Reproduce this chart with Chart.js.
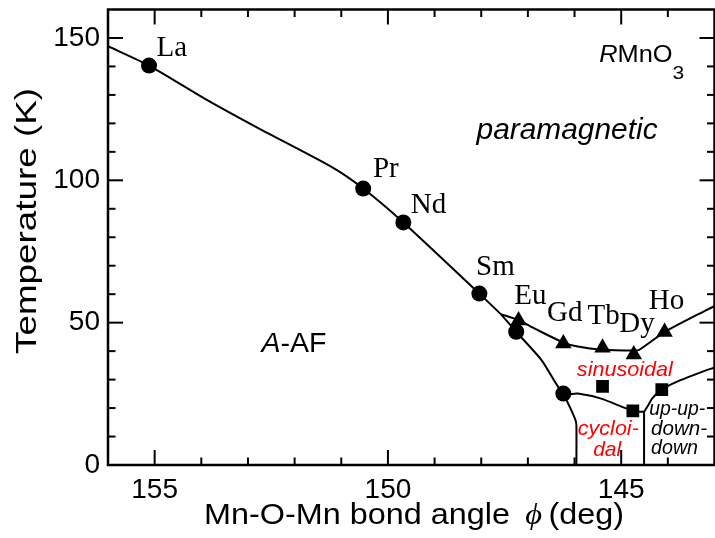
<!DOCTYPE html>
<html><head><meta charset="utf-8">
<script src="https://cdn.jsdelivr.net/npm/chart.js@4"></script>
<style>
html,body{margin:0;padding:0;overflow:hidden;background:#fff;width:715px;height:538px}
#wrap{width:724px;height:538px}
</style></head>
<body><div id="wrap"><canvas id="c" width="724" height="538"></canvas></div>
<script>
// ---------- data ----------
const circleAngles = [155.12, 150.53, 149.67, 148.04, 147.25, 146.24];
const circleTemps  = [140.3, 97.1, 85.2, 60.2, 46.8, 25.1];
const triangleAngles = [147.20, 146.24, 145.40, 144.73, 144.07];
const triangleTemps  = [50.8, 42.7, 41.2, 38.8, 46.7];
const squareAngles = [145.40, 144.75, 144.13];
const squareTemps  = [27.6, 19.0, 26.5];

// phase boundaries
const tnAngles = [156.0, 155.12, 153.9, 152.78, 151.2, 150.53, 149.67, 148.04, 147.58];
const tnTemps  = [147.1, 140.3, 128.4, 118.3, 104.6, 97.1, 85.2, 60.2, 53.0];
const sinusAngles = [147.58, 147.2, 146.84, 146.25, 145.93, 145.40, 144.72, 144.62, 144.07, 143.14, 143.0];
const sinusTemps  = [53.0, 50.9, 47.8, 43.1, 41.6, 40.5, 40.2, 40.4, 46.7, 54.7, 55.8];
const aafAngles = [147.58, 147.25, 146.7, 146.24, 145.93, 145.43, 144.75, 144.51];
const aafTemps  = [53.0, 46.8, 36.7, 25.1, 25.1, 23.3, 19.0, 18.7];
const cycLeftAngles = [146.24, 146.07, 145.98, 145.96, 145.96];
const cycLeftTemps  = [25.1, 19.3, 15.8, 14.0, 0];
const cycRightAngles = [144.51, 144.51];
const cycRightTemps  = [18.7, 0];
const uudAngles = [144.51, 144.42, 144.33, 144.13, 143.8, 143.14, 143.0];
const uudTemps  = [18.7, 21.0, 23.5, 26.5, 29.3, 33.5, 34.2];

// element labels
const elementNames  = ['La', 'Pr', 'Nd', 'Sm', 'Eu', 'Gd', 'Tb', 'Dy', 'Ho'];
const elementAngles = [154.96, 150.32, 149.51, 148.11, 147.29, 146.59, 145.72, 145.04, 144.41];
const elementTemps  = [143.6, 101.1, 88.4, 66.9, 56.6, 50.6, 49.6, 46.8, 54.8];

// axes
const xTickValues = [155, 150, 145];
const xMinorValues = [154, 153, 152, 151, 149, 148, 147, 146, 144];
const yTickValues = [0, 50, 100, 150];
const yMinorValues = [10, 20, 30, 40, 60, 70, 80, 90, 110, 120, 130, 140];
const xTitle = 'Mn-O-Mn bond angle';
const yTitle = 'Temperature (K)';

const pts = (xs, ys) => xs.map((x, i) => ({x, y: ys[i]}));
const lineDs = (xs, ys) => ({type: 'line', data: pts(xs, ys), borderColor: '#000', borderWidth: 2,
  pointRadius: 0, fill: false, tension: 0.25, cubicInterpolationMode: 'default'});

function drawParts(ctx, parts, x, y, opt) {
  opt = opt || {};
  let total = 0;
  parts.forEach(p => { ctx.font = p.font; p.w = ctx.measureText(p.t).width; total += p.w + (p.gap || 0); });
  const s = opt.width ? opt.width / total : 1;
  ctx.save();
  ctx.translate(x, y);
  if (opt.rotate) ctx.rotate(-Math.PI / 2);
  ctx.scale(s, 1);
  let cx = opt.align === 'center' ? -total / 2 : 0;
  ctx.textBaseline = 'alphabetic';
  ctx.textAlign = 'left';
  parts.forEach(p => {
    ctx.font = p.font;
    ctx.fillStyle = p.color || '#000';
    ctx.fillText(p.t, cx, p.dy || 0);
    cx += p.w + (p.gap || 0);
  });
  ctx.restore();
}

const SANS = '"Liberation Sans", Arial, sans-serif';
const SERIF = '"Liberation Serif", "Times New Roman", serif';

const framePlugin = {
  id: 'frame',
  afterDraw(chart) {
    const ctx = chart.ctx, a = chart.chartArea;
    const xs = chart.scales.x, ys = chart.scales.y;
    ctx.save();
    ctx.strokeStyle = '#000';
    ctx.lineWidth = 2.5;
    ctx.lineCap = 'square';
    ctx.strokeRect(a.left, a.top, a.right - a.left, a.bottom - a.top);
    ctx.lineWidth = 2;
    ctx.lineCap = 'butt';
    const tick = (x1, y1, x2, y2) => { ctx.beginPath(); ctx.moveTo(x1, y1); ctx.lineTo(x2, y2); ctx.stroke(); };
    xTickValues.forEach(v => { const p = xs.getPixelForValue(v); tick(p, a.bottom, p, a.bottom - 15); tick(p, a.top, p, a.top + 15); });
    xMinorValues.forEach(v => { const p = xs.getPixelForValue(v); tick(p, a.bottom, p, a.bottom - 7.5); tick(p, a.top, p, a.top + 7.5); });
    yTickValues.forEach(v => { const p = ys.getPixelForValue(v); tick(a.left, p, a.left + 15, p); tick(a.right, p, a.right - 15, p); });
    yMinorValues.forEach(v => { const p = ys.getPixelForValue(v); tick(a.left, p, a.left + 7.5, p); tick(a.right, p, a.right - 7.5, p); });
    ctx.restore();

    const X = v => xs.getPixelForValue(v), Y = v => ys.getPixelForValue(v);
    // element labels
    elementNames.forEach((n, i) => {
      drawParts(ctx, [{t: n, font: '29px ' + SERIF}], X(elementAngles[i]), Y(elementTemps[i]));
    });
    // phase labels
    drawParts(ctx, [{t: 'paramagnetic', font: 'italic 30px ' + SANS}], X(148.1), Y(114.5), {width: 181});
    drawParts(ctx, [{t: 'A', font: 'italic 28px ' + SANS}, {t: '-AF', font: '28px ' + SANS}], X(152.71), Y(39.6), {width: 65});
    drawParts(ctx, [{t: 'R', font: 'italic 23px ' + SANS}, {t: 'MnO', font: '23px ' + SANS},
      {t: '3', font: '19px ' + SANS, dy: 17}], X(145.47), Y(141.5), {width: 85});
    drawParts(ctx, [{t: 'sinusoidal', font: 'italic 21px ' + SANS, color: '#ff0000'}], X(145.95), Y(31.1), {width: 96});
    drawParts(ctx, [{t: 'cycloi-', font: 'italic 21px ' + SANS, color: '#ff0000'}], X(145.93), Y(10.6), {width: 61});
    drawParts(ctx, [{t: 'dal', font: 'italic 21px ' + SANS, color: '#ff0000'}], X(145.3), Y(3.2), {align: 'center'});
    drawParts(ctx, [{t: 'up-up-', font: 'italic 21px ' + SANS}], X(144.40), Y(17.5), {width: 56});
    drawParts(ctx, [{t: 'down-', font: 'italic 21px ' + SANS}], X(144.36), Y(10.6), {width: 56});
    drawParts(ctx, [{t: 'down', font: 'italic 21px ' + SANS}], X(144.36), Y(3.8), {width: 47});
    // axis titles
    drawParts(ctx, [{t: xTitle, font: '30px ' + SANS, gap: 14}, {t: '\u03D5', font: 'italic 30px ' + SERIF, gap: 6},
      {t: '(deg)', font: '30px ' + SANS}], 414, 524, {align: 'center', width: 420});
    drawParts(ctx, [{t: yTitle, font: '30px ' + SANS}], 36, 221, {align: 'center', width: 266, rotate: true});
  }
};

const marker = (xs, ys, style, r) => ({type: 'scatter', data: pts(xs, ys), pointStyle: style,
  pointRadius: r, pointHoverRadius: r, backgroundColor: '#000', borderColor: '#000', borderWidth: 0, showLine: false});

const noPad = s => { s.paddingTop = 0; s.paddingBottom = 0; s.paddingLeft = 0; s.paddingRight = 0; };

new Chart(document.getElementById('c'), {
  type: 'scatter',
  data: {
    datasets: [
      lineDs(tnAngles, tnTemps),
      lineDs(sinusAngles, sinusTemps),
      lineDs(aafAngles, aafTemps),
      lineDs(cycLeftAngles, cycLeftTemps),
      lineDs(cycRightAngles, cycRightTemps),
      lineDs(uudAngles, uudTemps),
      marker(circleAngles, circleTemps, 'circle', 8),
      marker(triangleAngles, triangleTemps, 'triangle', 9.5),
      marker(squareAngles, squareTemps, 'rect', 9),
    ]
  },
  options: {
    responsive: false,
    animation: false,
    events: [],
    layout: {padding: {top: 6, right: 2.4, left: 0, bottom: 0}},
    plugins: {legend: {display: false}, tooltip: {enabled: false}},
    scales: {
      x: {
        type: 'linear', reverse: true, min: 143, max: 156,
        afterBuildTicks: s => { s.ticks = xTickValues.map(v => ({value: v})); },
        afterFit: s => { s.height = 73; noPad(s); },
        grid: {display: false, drawTicks: false},
        border: {display: false},
        ticks: {color: '#000', font: {family: SANS, size: 28}, padding: 8, maxRotation: 0}
      },
      y: {
        type: 'linear', min: 0, max: 160,
        afterBuildTicks: s => { s.ticks = yTickValues.map(v => ({value: v})); },
        afterFit: s => { s.width = 108; noPad(s); },
        grid: {display: false, drawTicks: false},
        border: {display: false},
        ticks: {color: '#000', font: {family: SANS, size: 28}, padding: 8}
      }
    }
  },
  plugins: [framePlugin]
});
</script>
</body></html>
